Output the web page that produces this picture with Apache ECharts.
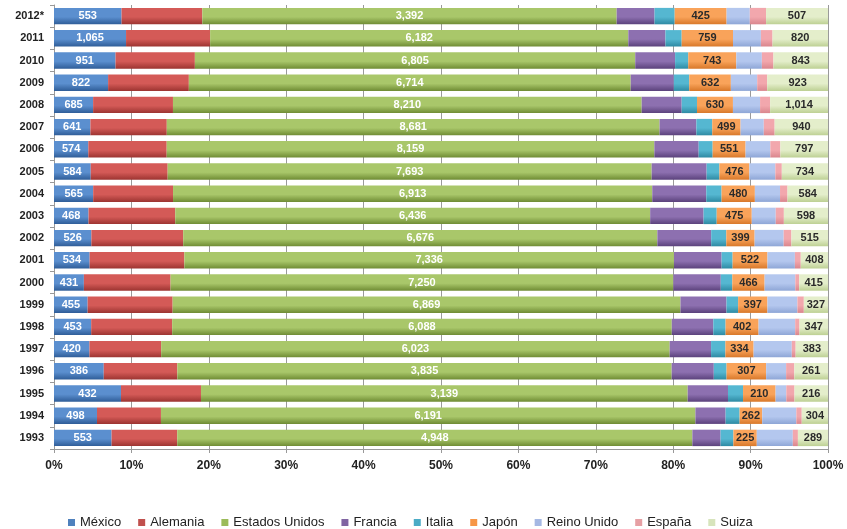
<!DOCTYPE html>
<html>
<head>
<meta charset="utf-8">
<script src="https://cdn.jsdelivr.net/npm/echarts@6/dist/echarts.min.js"></script>
<style>
  html, body { margin: 0; padding: 0; background: #fff; }
  #chart { width: 847px; height: 529px; }
</style>
</head>
<body>
<div id="chart"></div>
<script>
// Años (de abajo hacia arriba)
const years = ['1993','1994','1995','1996','1997','1998','1999','2000','2001','2002','2003','2004','2005','2006','2007','2008','2009','2010','2011','2012*'];

// Valores por país
const mexico     = [553,498,432,386,420,453,455,431,534,526,468,565,584,574,641,685,822,951,1065,553];
const alemania   = [631,741,516,571,849,987,1150,1250,1419,1293,1175,1152,1223,1312,1346,1399,1227,1226,1243,661];
const eeuu       = [4948,6191,3139,3835,6023,6088,6869,7250,7336,6676,6436,6913,7693,8159,8681,8210,6714,6805,6182,3392];
const francia    = [271,350,260,327,490,506,623,684,714,758,724,779,874,742,648,701,655,616,549,310];
const italia     = [123,162,97,99,170,150,157,166,165,213,178,221,203,234,280,268,235,203,240,165];
const japon      = [225,262,210,307,334,402,397,466,522,399,475,480,476,551,499,630,632,743,759,425];
const reinoUnido = [346,395,69,155,452,446,405,443,411,409,325,363,413,414,409,475,400,395,412,190];
const espana     = [49,63,53,64,46,53,87,56,88,109,110,108,103,168,191,176,153,179,172,133];
const suiza      = [289,304,216,261,383,347,327,415,408,515,598,584,734,797,940,1014,923,843,820,507];

const xTicks = ['0%','10%','20%','30%','40%','50%','60%','70%','80%','90%','100%'];

const seriesDefs = [
  { name: 'México',         data: mexico,     color: ['#5b8fcf', '#2f5d98'], label: '#ffffff' },
  { name: 'Alemania',       data: alemania,   color: ['#d45a57', '#9c3431'], label: null },
  { name: 'Estados Unidos', data: eeuu,       color: ['#a9c76a', '#6f8c34'], label: '#ffffff' },
  { name: 'Francia',        data: francia,    color: ['#8d70b0', '#5b427c'], label: null },
  { name: 'Italia',         data: italia,     color: ['#55b7d1', '#2e8aa3'], label: null },
  { name: 'Japón',          data: japon,      color: ['#f9a35a', '#d8782a'], label: '#2a2a2a' },
  { name: 'Reino Unido',    data: reinoUnido, color: ['#b4c7ee', '#8ea6d6'], label: null },
  { name: 'España',         data: espana,     color: ['#f2a7ad', '#d9868d'], label: null },
  { name: 'Suiza',          data: suiza,      color: ['#e4eecb', '#bdd093'], label: '#2a2a2a' }
];

const legendColors = ['#4f81bd','#c0504d','#9bbb59','#8064a2','#4bacc6','#f79646','#a5b8e3','#e6a0a4','#d7e4bc'];

// Total por año para normalizar al 100%
const totals = years.map((_, i) => seriesDefs.reduce((s, d) => s + d.data[i], 0));

const fmt = v => v.toLocaleString('en-US');

const series = seriesDefs.map((d) => ({
  name: d.name,
  type: 'bar',
  stack: 'total',
  barCategoryGap: '26%',
  itemStyle: {
    color: {
      type: 'linear', x: 0, y: 0, x2: 0, y2: 1,
      colorStops: [
        { offset: 0, color: d.color[0] },
        { offset: 0.55, color: d.color[0] },
        { offset: 1, color: d.color[1] }
      ]
    }
  },
  label: d.label ? {
    show: true,
    position: 'inside',
    color: d.label,
    fontFamily: 'Liberation Sans, Arial, sans-serif',
    fontWeight: 'bold',
    fontSize: 11,
    formatter: p => fmt(d.data[p.dataIndex])
  } : { show: false },
  data: d.data.map((v, i) => v / totals[i] * 100)
}));

const chart = echarts.init(document.getElementById('chart'));
chart.setOption({
  animation: false,
  color: legendColors,
  grid: { left: 54, right: 19, top: 5, bottom: 80, containLabel: false },
  legend: {
    top: 511,
    left: 63,
    icon: 'rect',
    itemWidth: 7,
    itemHeight: 7,
    itemGap: 17,
    textStyle: {
      fontFamily: 'Liberation Sans Narrow, Arial Narrow, Liberation Sans, sans-serif',
      fontSize: 13,
      color: '#222'
    },
    data: seriesDefs.map((d, i) => ({ name: d.name, itemStyle: { color: legendColors[i] } }))
  },
  xAxis: {
    type: 'value',
    min: 0,
    max: 100,
    interval: 10,
    axisLine: { show: true, lineStyle: { color: '#999' } },
    axisTick: { show: true, length: 4, lineStyle: { color: '#999' } },
    splitLine: { show: true, lineStyle: { color: '#9a9a9a', width: 1 } },
    axisLabel: {
      formatter: v => xTicks[Math.round(v / 10)],
      fontFamily: 'Liberation Sans, Arial, sans-serif',
      fontWeight: 'bold',
      fontSize: 12,
      color: '#222',
      margin: 11
    }
  },
  yAxis: {
    type: 'category',
    data: years,
    axisLine: { show: true, lineStyle: { color: '#999' } },
    axisTick: { show: true, length: 4, lineStyle: { color: '#999' } },
    axisLabel: {
      fontFamily: 'Liberation Sans, Arial, sans-serif',
      fontWeight: 'bold',
      fontSize: 11,
      color: '#222',
      margin: 10
    }
  },
  series: series
});
</script>
</body>
</html>
